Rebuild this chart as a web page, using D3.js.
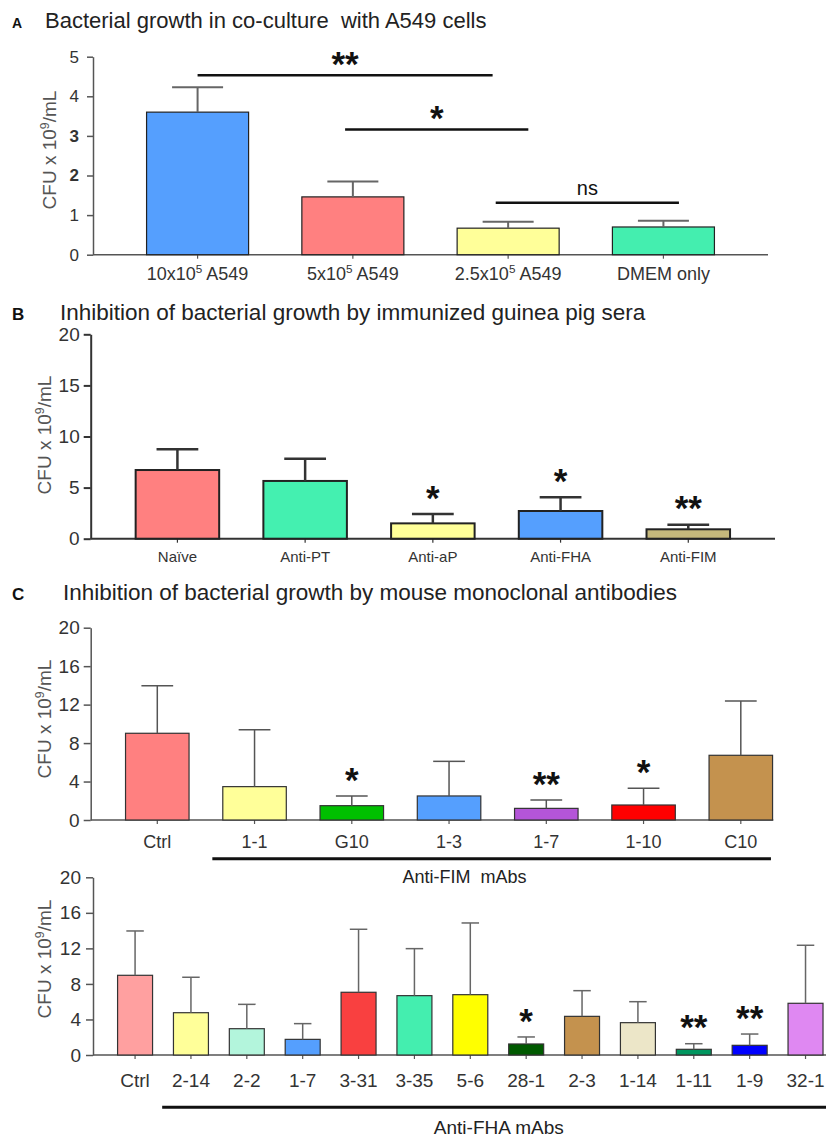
<!DOCTYPE html>
<html>
<head>
<meta charset="utf-8">
<script src="https://cdnjs.cloudflare.com/ajax/libs/d3/7.8.5/d3.min.js"></script>
<style>
  body { margin: 0; background: #fff; }
  svg { display: block; font-family: "Liberation Sans", Arial, sans-serif; }
  text { white-space: pre; }
</style>
</head>
<body>
<svg id="fig" width="826" height="1137"></svg>
<script>
// ---- data ----
// A: co-culture with A549 cells
var catsA = ["10x10^5 A549", "5x10^5 A549", "2.5x10^5 A549", "DMEM only"];
var meanA = [3.6, 1.46, 0.67, 0.70];
var sdA = [0.63, 0.39, 0.16, 0.16];
var ticksA = [0, 1, 2, 3, 4, 5];
var boldTicksA = [2, 3];
// brackets: [from index, to index, y value, label]
var bracketsA = [[0, 1.9, 4.53, "**"], [0.95, 2.13, 3.16, "*"], [1.92, 3.1, 1.31, "ns"]];

// B: guinea pig sera
var catsB = ["Naïve", "Anti-PT", "Anti-aP", "Anti-FHA", "Anti-FIM"];
var meanB = [6.72, 5.65, 1.5, 2.71, 0.92];
var sdB = [2.03, 2.18, 0.92, 1.34, 0.45];
var sigB = ["", "", "*", "*", "**"];
var ticksB = [0, 5, 10, 15, 20];

// C top: anti-FIM mAbs
var catsC1 = ["Ctrl", "1-1", "G10", "1-3", "1-7", "1-10", "C10"];
var meanC1 = [9.02, 3.47, 1.49, 2.5, 1.21, 1.56, 6.73];
var sdC1 = [4.95, 5.92, 1.01, 3.6, 0.87, 1.73, 5.65];
var sigC1 = ["", "", "*", "", "**", "*", ""];

// C bottom: anti-FHA mAbs
var catsC2 = ["Ctrl", "2-14", "2-2", "1-7", "3-31", "3-35", "5-6", "28-1", "2-3", "1-14", "1-11", "1-9", "32-1"];
var meanC2 = [8.97, 4.76, 2.96, 1.76, 7.06, 6.68, 6.79, 1.24, 4.35, 3.64, 0.64, 1.09, 5.82];
var sdC2 = [4.99, 3.99, 2.74, 1.77, 7.09, 5.29, 8.07, 0.79, 2.89, 2.36, 0.63, 1.27, 6.53];
var sigC2 = ["", "", "", "", "", "", "", "*", "", "", "**", "**", ""];
var ticksC = [0, 4, 8, 12, 16, 20];

var yLabel = "CFU x 10^9/mL";

var svg = d3.select("#fig");

// text with "^n" superscripts
function richText(sel, str, fs) {
  var parts = str.split(/\^(\d)/);
  var up = false;
  parts.forEach(function(p, i) {
    if (!p) return;
    var t = sel.append("tspan").text(p);
    if (i % 2 === 1) {
      t.attr("dy", -0.38 * fs).style("font-size", (0.65 * fs) + "px");
      up = true;
    } else if (up) {
      t.attr("dy", 0.38 * fs);
      up = false;
    }
  });
  return sel;
}

function heading(letter, title, x, y, lfs, tfs) {
  svg.append("text").attr("x", 12).attr("y", y)
    .style("font-weight", "bold").style("font-size", lfs + "px").attr("fill", "#111").text(letter);
  svg.append("text").attr("x", x).attr("y", y)
    .style("font-size", tfs + "px").attr("fill", "#222").text(title);
}

function barPanel(p) {
  var g = svg.append("g");
  var x = d3.scaleBand().domain(p.cats).range(p.band)
    .paddingInner(p.padIn).paddingOuter(p.padOut);
  var y = d3.scaleLinear().domain([0, p.ticks[p.ticks.length - 1]]).range([p.y0, p.y1]);
  var bw = x.bandwidth();
  var cx = function(i) { return x(p.cats[0]) + bw / 2 + i * x.step(); };

  // y axis
  var ya = g.append("g").attr("transform", "translate(" + p.x0 + ",0)")
    .call(d3.axisLeft(y).tickValues(p.ticks).tickFormat(d3.format("d"))
      .tickSize(p.tick).tickSizeOuter(0).tickPadding(p.tickPad));
  ya.attr("font-family", null).attr("font-size", null);
  ya.select(".domain").attr("stroke", p.axisColor).attr("stroke-width", p.axisW);
  ya.selectAll(".tick line").attr("stroke", p.axisColor).attr("stroke-width", p.axisW);
  ya.selectAll(".tick text").attr("fill", "#333").style("font-size", p.tickFs + "px")
    .style("font-weight", function(d) { return (p.bold || []).indexOf(d) >= 0 ? "bold" : null; });

  // x axis (line drawn to its own extent, ticks at band centres)
  var xa = g.append("g").attr("transform", "translate(0," + p.y0 + ")")
    .call(d3.axisBottom(x).tickSize(4).tickSizeOuter(0).tickFormat(""));
  xa.select(".domain").remove();
  xa.selectAll(".tick line").attr("stroke", p.axisColor).attr("stroke-width", 1.2);
  g.append("line").attr("x1", p.x0).attr("x2", p.x1).attr("y1", p.y0).attr("y2", p.y0)
    .attr("stroke", p.axisColor).attr("stroke-width", p.axisW);

  p.cats.forEach(function(c, i) {
    richText(g.append("text").attr("x", cx(i)).attr("y", p.y0 + p.labOff)
      .attr("text-anchor", "middle").attr("fill", "#333").style("font-size", p.labFs + "px"), c, p.labFs);
  });

  // bars
  g.selectAll("rect.bar").data(p.mean).join("rect").attr("class", "bar")
    .attr("x", function(d, i) { return x(p.cats[i]); })
    .attr("y", function(d) { return y(d); })
    .attr("width", bw)
    .attr("height", function(d) { return p.y0 - y(d); })
    .attr("fill", function(d, i) { return p.colors[i]; })
    .attr("stroke", p.barStroke).attr("stroke-width", p.barW);

  // error bars
  var eb = g.selectAll("g.err").data(p.mean).join("g").attr("class", "err")
    .attr("stroke", p.errColor).attr("stroke-width", p.errW);
  eb.append("line")
    .attr("x1", function(d, i) { return cx(i); }).attr("x2", function(d, i) { return cx(i); })
    .attr("y1", function(d) { return y(d); })
    .attr("y2", function(d, i) { return y(d + p.sd[i]); });
  eb.append("line")
    .attr("x1", function(d, i) { return cx(i) - bw / 4; }).attr("x2", function(d, i) { return cx(i) + bw / 4; })
    .attr("y1", function(d, i) { return y(d + p.sd[i]); })
    .attr("y2", function(d, i) { return y(d + p.sd[i]); });

  // significance stars
  if (p.sig) {
    g.selectAll("text.sig").data(p.mean).join("text").attr("class", "sig")
      .attr("x", function(d, i) { return cx(i); })
      .attr("y", function(d, i) { return y(d + p.sd[i]) - 24 + 0.56 * p.starFs; })
      .attr("text-anchor", "middle").style("font-size", p.starFs + "px").style("font-weight", "bold")
      .attr("fill", "#111")
      .text(function(d, i) { return p.sig[i]; });
  }

  // brackets between groups
  (p.brackets || []).forEach(function(b) {
    var xa1 = cx(b[0]), xa2 = cx(b[1]), yy = y(b[2]);
    g.append("line").attr("x1", xa1).attr("x2", xa2).attr("y1", yy).attr("y2", yy)
      .attr("stroke", "#111").attr("stroke-width", 2.5);
    var star = b[3] !== "ns";
    g.append("text").attr("x", (xa1 + xa2) / 2).attr("y", star ? yy - 19 + 0.56 * p.starFs : yy - 8)
      .attr("text-anchor", "middle").attr("fill", "#111")
      .style("font-size", (star ? p.starFs : 20) + "px").style("font-weight", star ? "bold" : null)
      .text(b[3]);
  });

  // group line under x labels
  if (p.group) {
    var gp = p.group;
    g.append("line").attr("x1", cx(gp.from)).attr("x2", cx(gp.to)).attr("y1", gp.y).attr("y2", gp.y)
      .attr("stroke", "#111").attr("stroke-width", 3);
    g.append("text").attr("x", cx(gp.at)).attr("y", gp.y + gp.off).attr("text-anchor", "middle")
      .attr("fill", "#222").style("font-size", gp.fs + "px").text(gp.label);
  }

  // rotated y label
  richText(g.append("text").attr("transform", "translate(" + p.yl[0] + "," + p.yl[1] + ") rotate(-90)")
    .attr("text-anchor", "middle").attr("fill", "#555").style("font-size", "19px"), yLabel, 19);
}

// ---- panel A ----
heading("A", "Bacterial growth in co-culture  with A549 cells", 45, 28, 14, 22);
barPanel({
  cats: catsA, mean: meanA, sd: sdA, ticks: ticksA, bold: boldTicksA,
  colors: ["#559ffe", "#ff8080", "#ffff99", "#44eeaf"],
  x0: 93, x1: 768, band: [93, 768], padIn: 0.343, padOut: 0.345,
  y0: 254.7, y1: 56.7, tick: 6, tickPad: 8, tickFs: 17,
  labFs: 18, labOff: 25,
  axisColor: "#555", axisW: 1.5, barStroke: "#222", barW: 1.2, errColor: "#666", errW: 2,
  starFs: 35, brackets: bracketsA, yl: [56, 150]
});

// ---- panel B ----
heading("B", "Inhibition of bacterial growth by immunized guinea pig sera", 60, 320, 17, 22.5);
barPanel({
  cats: catsB, mean: meanB, sd: sdB, ticks: ticksB, sig: sigB,
  colors: ["#ff8080", "#44f0b0", "#ffff99", "#559ffe", "#c5b87c"],
  x0: 90.7, x1: 775, band: [90.7, 775], padIn: 0.346, padOut: 0.352,
  y0: 538.7, y1: 334.3, tick: 7, tickPad: 4, tickFs: 19,
  labFs: 15, labOff: 23,
  axisColor: "#333", axisW: 2, barStroke: "#222", barW: 2, errColor: "#333", errW: 2.5,
  starFs: 35, yl: [51, 435]
});

// ---- panel C ----
heading("C", "Inhibition of bacterial growth by mouse monoclonal antibodies", 63, 600, 17, 22.5);
barPanel({
  cats: catsC1, mean: meanC1, sd: sdC1, ticks: ticksC, sig: sigC1,
  colors: ["#ff8080", "#ffff99", "#00c000", "#559ffe", "#b455d8", "#ff0000", "#c4924e"],
  x0: 90.7, x1: 773.3, band: [91.5, 806.6], padIn: 0.347, padOut: 0.35,
  y0: 820, y1: 627.7, tick: 7, tickPad: 4, tickFs: 19,
  labFs: 18, labOff: 28,
  axisColor: "#555", axisW: 1.5, barStroke: "#333", barW: 1.2, errColor: "#555", errW: 1.5,
  starFs: 35, yl: [51, 719],
  group: { from: 0.566, to: 6.31, y: 858.7, at: 3.16, off: 24, fs: 18, label: "Anti-FIM  mAbs" }
});

barPanel({
  cats: catsC2, mean: meanC2, sd: sdC2, ticks: ticksC, sig: sigC2,
  colors: ["#ffa0a0", "#ffff99", "#b3f5dc", "#559ffe", "#f94040", "#44eeaf", "#ffff00",
           "#005a00", "#c4924e", "#ece6c8", "#00965f", "#0000ff", "#df88f2"],
  x0: 93, x1: 826, band: [93, 847.6], padIn: 0.374, padOut: 0.44,
  y0: 1055, y1: 877.3, tick: 7, tickPad: 5, tickFs: 19,
  labFs: 19, labOff: 32,
  axisColor: "#555", axisW: 1.5, barStroke: "#333", barW: 1.2, errColor: "#666", errW: 1.5,
  starFs: 35, yl: [51, 959],
  group: { from: 0.485, to: 13, y: 1107.3, at: 6.51, off: 27, fs: 19, label: "Anti-FHA mAbs" }
});
</script>
</body>
</html>
